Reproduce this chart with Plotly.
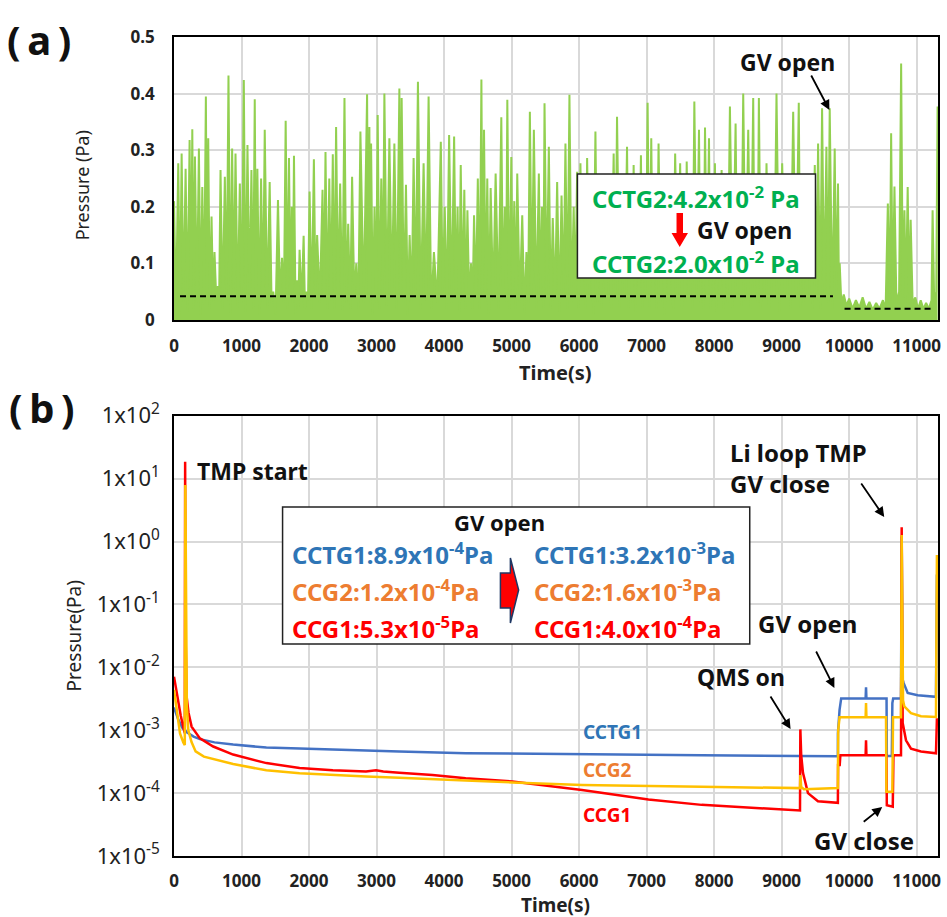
import plotly.graph_objects as go

# ---------------- (a) CCTG2 pressure record ----------------
cctg2_t = [
    0, 30, 63, 88, 113, 140, 172, 200, 231, 250, 271, 290, 310, 340, 369, 395, 419, 445, 472, 490,
    507, 530, 556, 580, 600, 625, 650, 668, 689, 720, 753, 780, 807, 835, 861, 886, 911, 943, 975, 1005,
    1034, 1060, 1088, 1118, 1147, 1172, 1196, 1215, 1235, 1262, 1290, 1318, 1344, 1380, 1417, 1445, 1470, 1505, 1540, 1570,
    1600, 1628, 1654, 1680, 1703, 1725, 1745, 1760, 1777, 1800, 1820, 1840, 1860, 1890, 1920, 1940, 1960, 1985, 2008, 2040,
    2072, 2096, 2120, 2160, 2200, 2222, 2244, 2272, 2300, 2326, 2352, 2376, 2401, 2430, 2461, 2493, 2525, 2552, 2580, 2610,
    2638, 2670, 2700, 2730, 2761, 2810, 2860, 2877, 2894, 2906, 2919, 2945, 2970, 2993, 3017, 3043, 3070, 3093, 3116, 3153,
    3190, 3227, 3264, 3300, 3338, 3355, 3372, 3404, 3436, 3463, 3490, 3520, 3549, 3580, 3613, 3655, 3697, 3734, 3771, 3810,
    3850, 3900, 3952, 3980, 4010, 4042, 4075, 4112, 4149, 4175, 4200, 4224, 4247, 4274, 4300, 4323, 4346, 4373, 4400, 4422,
    4444, 4472, 4500, 4527, 4553, 4572, 4592, 4616, 4640, 4665, 4690, 4727, 4764, 4806, 4848, 4874, 4900, 4918, 4937, 4966,
    4996, 5018, 5040, 5062, 5084, 5121, 5158, 5190, 5220, 5245, 5271, 5300, 5330, 5367, 5404, 5427, 5450, 5470, 5488, 5520,
    5552, 5580, 5610, 5643, 5675, 5707, 5740, 5770, 5798, 5827, 5857, 5888, 5920, 5945, 5971, 5995, 6020, 6045, 6070, 6095,
    6119, 6150, 6180, 6210, 6242, 6270, 6300, 6333, 6365, 6400, 6440, 6475, 6512, 6537, 6562, 6600, 6640, 6675, 6710, 6735,
    6760, 6785, 6808, 6835, 6860, 6888, 6916, 6938, 6960, 6988, 7015, 7042, 7069, 7095, 7120, 7148, 7177, 7210, 7240, 7270,
    7300, 7330, 7360, 7392, 7423, 7460, 7497, 7524, 7550, 7572, 7594, 7622, 7650, 7680, 7707, 7742, 7776, 7798, 7820, 7843,
    7865, 7895, 7924, 7947, 7970, 7990, 8012, 8036, 8060, 8085, 8111, 8140, 8170, 8200, 8234, 8276, 8318, 8344, 8370, 8400,
    8431, 8468, 8505, 8542, 8579, 8600, 8620, 8642, 8663, 8692, 8720, 8748, 8776, 8813, 8850, 8887, 8924, 8966, 9008, 9050,
    9090, 9130, 9171, 9212, 9254, 9277, 9300, 9322, 9343, 9380, 9420, 9455, 9491, 9515, 9540, 9570, 9599, 9630, 9663, 9688,
    9712, 9750, 9786, 9810, 9835, 9850, 9860, 9884, 9920, 9960, 10000, 10050, 10100, 10150, 10200, 10250, 10300, 10350, 10400, 10450,
    10500, 10540, 10573, 10600, 10622, 10645, 10671, 10700, 10740, 10770, 10795, 10819, 10840, 10867, 10890, 10911, 10940, 10980, 11020, 11060,
    11100, 11140, 11180, 11220, 11236, 11260, 11290, 11310,
]
cctg2_p = [
    0.21, 0.02, 0.277, 0.01, 0.294, 0.03, 0.267, 0.015, 0.318, 0.04, 0.337, 0.02, 0.289, 0.03, 0.303, 0.01, 0.235, 0.025, 0.395, 0.04,
    0.321, 0.02, 0.183, 0.03, 0.12, 0.04, 0.06, 0.03, 0.265, 0.02, 0.253, 0.035, 0.432, 0.01, 0.303, 0.04, 0.294, 0.02, 0.241, 0.03,
    0.424, 0.015, 0.309, 0.04, 0.265, 0.02, 0.390, 0.035, 0.267, 0.01, 0.25, 0.03, 0.336, 0.02, 0.244, 0.03, 0.05, 0.01, 0.212, 0.04,
    0.11, 0.03, 0.352, 0.02, 0.286, 0.04, 0.2, 0.03, 0.29, 0.01, 0.07, 0.02, 0.124, 0.03, 0.149, 0.02, 0.05, 0.035, 0.227, 0.02,
    0.284, 0.04, 0.15, 0.03, 0.23, 0.04, 0.297, 0.02, 0.25, 0.035, 0.293, 0.02, 0.341, 0.04, 0.241, 0.015, 0.392, 0.03, 0.17, 0.02,
    0.253, 0.04, 0.1, 0.02, 0.333, 0.03, 0.399, 0.04, 0.341, 0.03, 0.312, 0.01, 0.2, 0.03, 0.362, 0.02, 0.25, 0.04, 0.4, 0.025,
    0.321, 0.04, 0.312, 0.02, 0.409, 0.04, 0.392, 0.03, 0.239, 0.01, 0.15, 0.03, 0.286, 0.04, 0.421, 0.02, 0.277, 0.035, 0.395, 0.02,
    0.12, 0.03, 0.315, 0.04, 0.2, 0.02, 0.327, 0.03, 0.324, 0.04, 0.2, 0.015, 0.274, 0.035, 0.23, 0.02, 0.194, 0.03, 0.1, 0.02,
    0.185, 0.04, 0.25, 0.02, 0.425, 0.04, 0.336, 0.03, 0.25, 0.01, 0.233, 0.035, 0.259, 0.02, 0.358, 0.04, 0.2, 0.03, 0.389, 0.02,
    0.288, 0.04, 0.21, 0.02, 0.259, 0.03, 0.185, 0.01, 0.12, 0.03, 0.368, 0.04, 0.336, 0.02, 0.259, 0.035, 0.2, 0.02, 0.383, 0.04,
    0.306, 0.02, 0.18, 0.03, 0.244, 0.015, 0.22, 0.04, 0.312, 0.02, 0.398, 0.03, 0.2, 0.04, 0.262, 0.02, 0.277, 0.035, 0.2, 0.02,
    0.286, 0.04, 0.17, 0.01, 0.333, 0.03, 0.15, 0.02, 0.253, 0.04, 0.17, 0.02, 0.294, 0.035, 0.359, 0.02, 0.2, 0.04, 0.306, 0.02,
    0.17, 0.03, 0.274, 0.015, 0.2, 0.04, 0.291, 0.02, 0.2, 0.035, 0.384, 0.02, 0.321, 0.04, 0.2, 0.02, 0.312, 0.03, 0.15, 0.01,
    0.247, 0.035, 0.2, 0.02, 0.294, 0.04, 0.277, 0.02, 0.15, 0.03, 0.28, 0.04, 0.2, 0.02, 0.386, 0.035, 0.336, 0.03, 0.2, 0.02,
    0.34, 0.04, 0.321, 0.02, 0.18, 0.03, 0.277, 0.015, 0.2, 0.04, 0.265, 0.02, 0.15, 0.03, 0.377, 0.02, 0.347, 0.04, 0.2, 0.025,
    0.4, 0.035, 0.336, 0.02, 0.392, 0.04, 0.2, 0.03, 0.392, 0.02, 0.15, 0.04, 0.277, 0.02, 0.15, 0.03, 0.4, 0.015, 0.277, 0.035,
    0.15, 0.02, 0.368, 0.04, 0.384, 0.02, 0.2, 0.03, 0.253, 0.04, 0.2, 0.02, 0.274, 0.035, 0.312, 0.02, 0.374, 0.04, 0.306, 0.03,
    0.374, 0.02, 0.303, 0.04, 0.241, 0.03, 0.1, 0.03, 0.045, 0.025, 0.038, 0.02, 0.035, 0.022, 0.04, 0.02, 0.032, 0.018, 0.03, 0.02,
    0.035, 0.02, 0.206, 0.03, 0.330, 0.03, 0.236, 0.03, 0.05, 0.453, 0.04, 0.194, 0.03, 0.235, 0.03, 0.177, 0.03, 0.04, 0.02, 0.035,
    0.02, 0.03, 0.02, 0.035, 0.194, 0.03, 0.05, 0.377,
]
# averaged levels before / after the gate valve is opened
mean_span_t = [[89, 9760], [9932, 11236]]
mean_p = [0.042, 0.020]

# ---------------- (b) gauge readings on log scale ----------------
cctg1_t = [0, 60, 120, 190, 290, 384, 600, 876, 1368, 2352, 3337, 4321, 6043, 7815, 9243, 9833,
           9834, 9858, 9882, 10244, 10250, 10256, 10554, 10558, 10632, 10640, 10652, 10768,
           10778, 10790, 10808, 10867, 11015, 11286, 11300]
cctg1_p = [2.3e-3, 1.5e-3, 1.1e-3, 9.3e-4, 7.9e-4, 7.2e-4, 6.4e-4, 5.9e-4, 5.3e-4, 5.0e-4, 4.6e-4, 4.3e-4, 4.2e-4, 4.0e-4, 3.9e-4, 3.85e-4,
           8.9e-4, 2.1e-3, 3.2e-3, 3.2e-3, 4.8e-3, 3.2e-3, 3.2e-3, 3.9e-4, 3.9e-4, 2.7e-3, 3.2e-3, 3.2e-3,
           1.2, 6.5e-3, 5.6e-3, 3.9e-3, 3.6e-3, 3.4e-3, 0.3]

ccg1_t = [0, 30, 60, 100, 140, 160, 165, 172, 187, 215, 261, 384, 581, 876, 1368, 1860, 2352, 2844, 2992, 3100,
          3337, 3829, 4321, 5010, 6043, 7027, 7815, 9243, 9272, 9277, 9290, 9316, 9390, 9538, 9785, 9833,
          9836, 9860, 9870, 10244, 10250, 10256, 10552, 10558, 10646, 10656, 10768, 10778, 10793, 10842,
          10916, 11064, 11286, 11300]
ccg1_p = [7.1e-3, 4.6e-3, 2.9e-3, 1.7e-3, 1.1e-3, 9.0e-4, 18.6, 3.0e-2, 3.4e-3, 1.9e-3, 1.14e-3, 7.4e-4, 5.5e-4, 4.1e-4, 3.0e-4, 2.5e-4, 2.3e-4, 2.2e-4, 2.3e-4, 2.2e-4,
          2.1e-4, 1.94e-4, 1.72e-4, 1.53e-4, 1.12e-4, 7.9e-5, 6.5e-5, 5.3e-5, 5.3e-5, 1.03e-3, 4.0e-4, 2.1e-4, 1.0e-4, 7.4e-5, 7.0e-5, 7.0e-5,
          2.8e-4, 2.8e-4, 4.0e-4, 4.0e-4, 6.9e-4, 4.0e-4, 4.0e-4, 6.4e-5, 6.1e-5, 4.0e-4, 4.0e-4, 1.68, 1.3e-3, 6.9e-4,
          5.1e-4, 4.6e-4, 4.3e-4, 1.55e-3]

ccg2_t = [0, 45, 89, 138, 160, 168, 178, 190, 212, 260, 320, 443, 876, 1368, 1860, 2352, 2844, 3337, 3829, 4321,
          5010, 6043, 7815, 9243, 9272, 9277, 9290, 9330, 9776, 9833, 9838, 9858, 10244, 10250, 10256, 10546,
          10552, 10640, 10650, 10768, 10778, 10798, 10817, 10916, 11064, 11286, 11300]
ccg2_p = [4.4e-3, 1.9e-3, 8.9e-4, 6.4e-4, 5.8e-4, 7.9, 2.0e-2, 2.5e-3, 1.0e-3, 6.5e-4, 4.6e-4, 3.8e-4, 2.9e-4, 2.3e-4, 2.07e-4, 1.94e-4, 1.83e-4, 1.76e-4, 1.65e-4, 1.58e-4,
          1.48e-4, 1.35e-4, 1.26e-4, 1.2e-4, 1.2e-4, 1.94e-4, 1.25e-4, 1.15e-4, 1.2e-4, 1.2e-4, 1.0e-3, 1.6e-3, 1.6e-3, 2.7e-3, 1.6e-3, 1.6e-3,
          1.05e-4, 1.05e-4, 1.6e-3, 1.6e-3, 1.27, 3.0e-3, 2.4e-3, 1.87e-3, 1.67e-3, 1.62e-3, 0.61]

log_ticks = [1e-5, 1e-4, 1e-3, 1e-2, 1e-1, 1e0, 1e1, 1e2]
log_tick_text = ["1x10<sup>-5</sup>", "1x10<sup>-4</sup>", "1x10<sup>-3</sup>", "1x10<sup>-2</sup>",
                 "1x10<sup>-1</sup>", "1x10<sup>0</sup>", "1x10<sup>1</sup>", "1x10<sup>2</sup>"]

GREEN = "#92D050"
BLUE = "#4472C4"
RED = "#FF0000"
YELLOW = "#FFC000"
FONT = "Noto Sans"

W, H = 947, 917
L, R, T, B = 174, 6, 37, 61
PW, PH = W - L - R, H - T - B


def px(x):
    return (x - L) / PW


def py(y):
    return (H - B - y) / PH


fig = go.Figure()

fig.add_trace(go.Scatter(x=cctg2_t, y=cctg2_p, mode="lines", xaxis="x", yaxis="y",
                         line=dict(color=GREEN, width=2), fill="tozeroy", fillcolor=GREEN,
                         showlegend=False, hoverinfo="skip"))
for span, level in zip(mean_span_t, mean_p):
    fig.add_trace(go.Scatter(x=span, y=[level, level], mode="lines", xaxis="x", yaxis="y",
                             line=dict(color="black", width=2, dash="6px,4px"),
                             showlegend=False, hoverinfo="skip"))

for t, p, c in [(cctg1_t, cctg1_p, BLUE), (ccg1_t, ccg1_p, RED), (ccg2_t, ccg2_p, YELLOW)]:
    fig.add_trace(go.Scatter(x=t, y=p, mode="lines", xaxis="x2", yaxis="y2",
                             line=dict(color=c, width=2.5), showlegend=False, hoverinfo="skip"))

grid = "#D9D9D9"
x_common = dict(range=[0, 11316], tick0=0, dtick=1000, tickformat="d",
                showgrid=True, gridcolor=grid, gridwidth=1.5,
                showline=True, linecolor="black", linewidth=1.5, mirror=True, zeroline=False,
                ticks="outside", tickcolor="rgba(0,0,0,0)",
                tickfont=dict(family=FONT, size=17, color="#222", weight="bold"))

fig.update_layout(
    width=W, height=H, margin=dict(l=L, r=R, t=T, b=B),
    paper_bgcolor="white", plot_bgcolor="white",
    xaxis=dict(domain=[0, 1], anchor="y", ticklen=10, **x_common),
    yaxis=dict(domain=[py(320), 1], anchor="x", range=[0, 0.5], tick0=0, dtick=0.1,
               showgrid=True, gridcolor=grid, gridwidth=1.5, zeroline=False,
               showline=True, linecolor="black", linewidth=1.5, mirror=True,
               ticks="outside", ticklen=14, tickcolor="rgba(0,0,0,0)",
               tickfont=dict(family=FONT, size=17, color="#222", weight="bold")),
    xaxis2=dict(domain=[0, 1], anchor="y2", ticklen=9, **x_common),
    yaxis2=dict(domain=[0, py(415.7)], anchor="x2", type="log", range=[-5, 2],
                tickvals=log_ticks, ticktext=log_tick_text,
                showgrid=True, gridcolor=grid, gridwidth=1.5, zeroline=False,
                showline=True, linecolor="black", linewidth=1.5, mirror=True,
                ticks="outside", ticklen=8, tickcolor="rgba(0,0,0,0)",
                tickfont=dict(family=FONT, size=22, color="#222")),
)

ann = []


def text(x, y, s, size=22, color="#111", bold=True, xanchor="center", angle=0, align="center"):
    ann.append(dict(x=px(x), y=py(y), xref="paper", yref="paper", text=s, showarrow=False,
                    xanchor=xanchor, yanchor="middle", textangle=angle, align=align,
                    font=dict(family=FONT, size=size, color=color, weight="bold" if bold else "normal")))


def arrow(x0, y0, x1, y1):
    ann.append(dict(x=px(x1), y=py(y1), xref="paper", yref="paper", text="",
                    showarrow=True, ax=x0 - x1, ay=y0 - y1, arrowhead=2, arrowsize=1.1,
                    arrowwidth=1.8, arrowcolor="black", standoff=0, startstandoff=0))


# panel letters and axis titles
text(38, 40, "(\u2009a\u2009)", size=40, color="#111")
text(41, 408, "(\u2009b\u2009)", size=40, color="#111")
text(82, 185, "Pressure (Pa)", size=18, color="#222", bold=False, angle=-90)
text(74, 636, "Pressure(Pa)", size=19, color="#222", bold=False, angle=-90)
text(557, 372, "Time(s)", size=20, color="#222")
text(557, 905, "Time(s)", size=19, color="#222")

# panel (a) notes
text(790, 62, "GV open", size=23)
arrow(813, 74, 832, 110)
GRN_TXT = "#00B050"
text(698, 198, "CCTG2:4.2x10<sup>-2</sup> Pa", size=24, color=GRN_TXT)
text(747, 230, "GV open", size=23)
text(698, 262, "CCTG2:2.0x10<sup>-2</sup> Pa", size=24, color=GRN_TXT)

# panel (b) notes
BLUE_TXT, ORANGE_TXT = "#2E75B6", "#ED7D31"
text(195, 471, "TMP start", size=23, xanchor="left")
text(501, 522, "GV open", size=22)
text(290, 553, "CCTG1:8.9x10<sup>-4</sup>Pa", size=24, color=BLUE_TXT, xanchor="left")
text(290, 590, "CCG2:1.2x10<sup>-4</sup>Pa", size=24, color=ORANGE_TXT, xanchor="left")
text(290, 627, "CCG1:5.3x10<sup>-5</sup>Pa", size=24, color=RED, xanchor="left")
text(533, 553, "CCTG1:3.2x10<sup>-3</sup>Pa", size=24, color=BLUE_TXT, xanchor="left")
text(533, 590, "CCG2:1.6x10<sup>-3</sup>Pa", size=24, color=ORANGE_TXT, xanchor="left")
text(533, 627, "CCG1:4.0x10<sup>-4</sup>Pa", size=24, color=RED, xanchor="left")
text(730, 468, "Li loop TMP<br>GV close", size=24, xanchor="left", align="left")
arrow(863, 482, 887, 517)
text(758, 623, "GV open", size=24, xanchor="left")
arrow(818, 650, 837, 688)
text(697, 677, "QMS on", size=23, xanchor="left")
arrow(772, 695, 793, 729)
text(583, 732, "CCTG1", size=19, color=BLUE_TXT, xanchor="left")
text(583, 770, "CCG2", size=19, color=ORANGE_TXT, xanchor="left")
text(583, 815, "CCG1", size=19, color=RED, xanchor="left")
text(815, 840, "GV close", size=24, xanchor="left")
arrow(865, 823, 885, 807)

fig.update_layout(annotations=ann)


def poly(points):
    return "M " + " L ".join(f"{px(x):.5f},{py(y):.5f}" for x, y in points) + " Z"


shapes = [
    # note boxes
    dict(type="rect", xref="paper", yref="paper", x0=px(579), x1=px(818), y0=py(278), y1=py(174),
         fillcolor="white", line=dict(color="#222", width=1.5), layer="above"),
    dict(type="rect", xref="paper", yref="paper", x0=px(283), x1=px(752), y0=py(644), y1=py(507),
         fillcolor="white", line=dict(color="#222", width=1.5), layer="above"),
    # red down arrow inside the (a) note
    dict(type="path", xref="paper", yref="paper", layer="above", fillcolor=RED, line=dict(width=0),
         path=poly([(678.5, 213), (685, 213), (685, 233), (690, 233), (681.7, 247), (673.5, 233), (678.5, 233)])),
    # block arrow inside the (b) note
    dict(type="path", xref="paper", yref="paper", layer="above", fillcolor=RED,
         line=dict(color="#1F3864", width=1.5),
         path=poly([(501.7, 573), (511.7, 573), (511.7, 558), (520, 590), (511.7, 623), (511.7, 608), (501.7, 608)])),
]
fig.update_layout(shapes=shapes)

fig.write_html("out.html")
